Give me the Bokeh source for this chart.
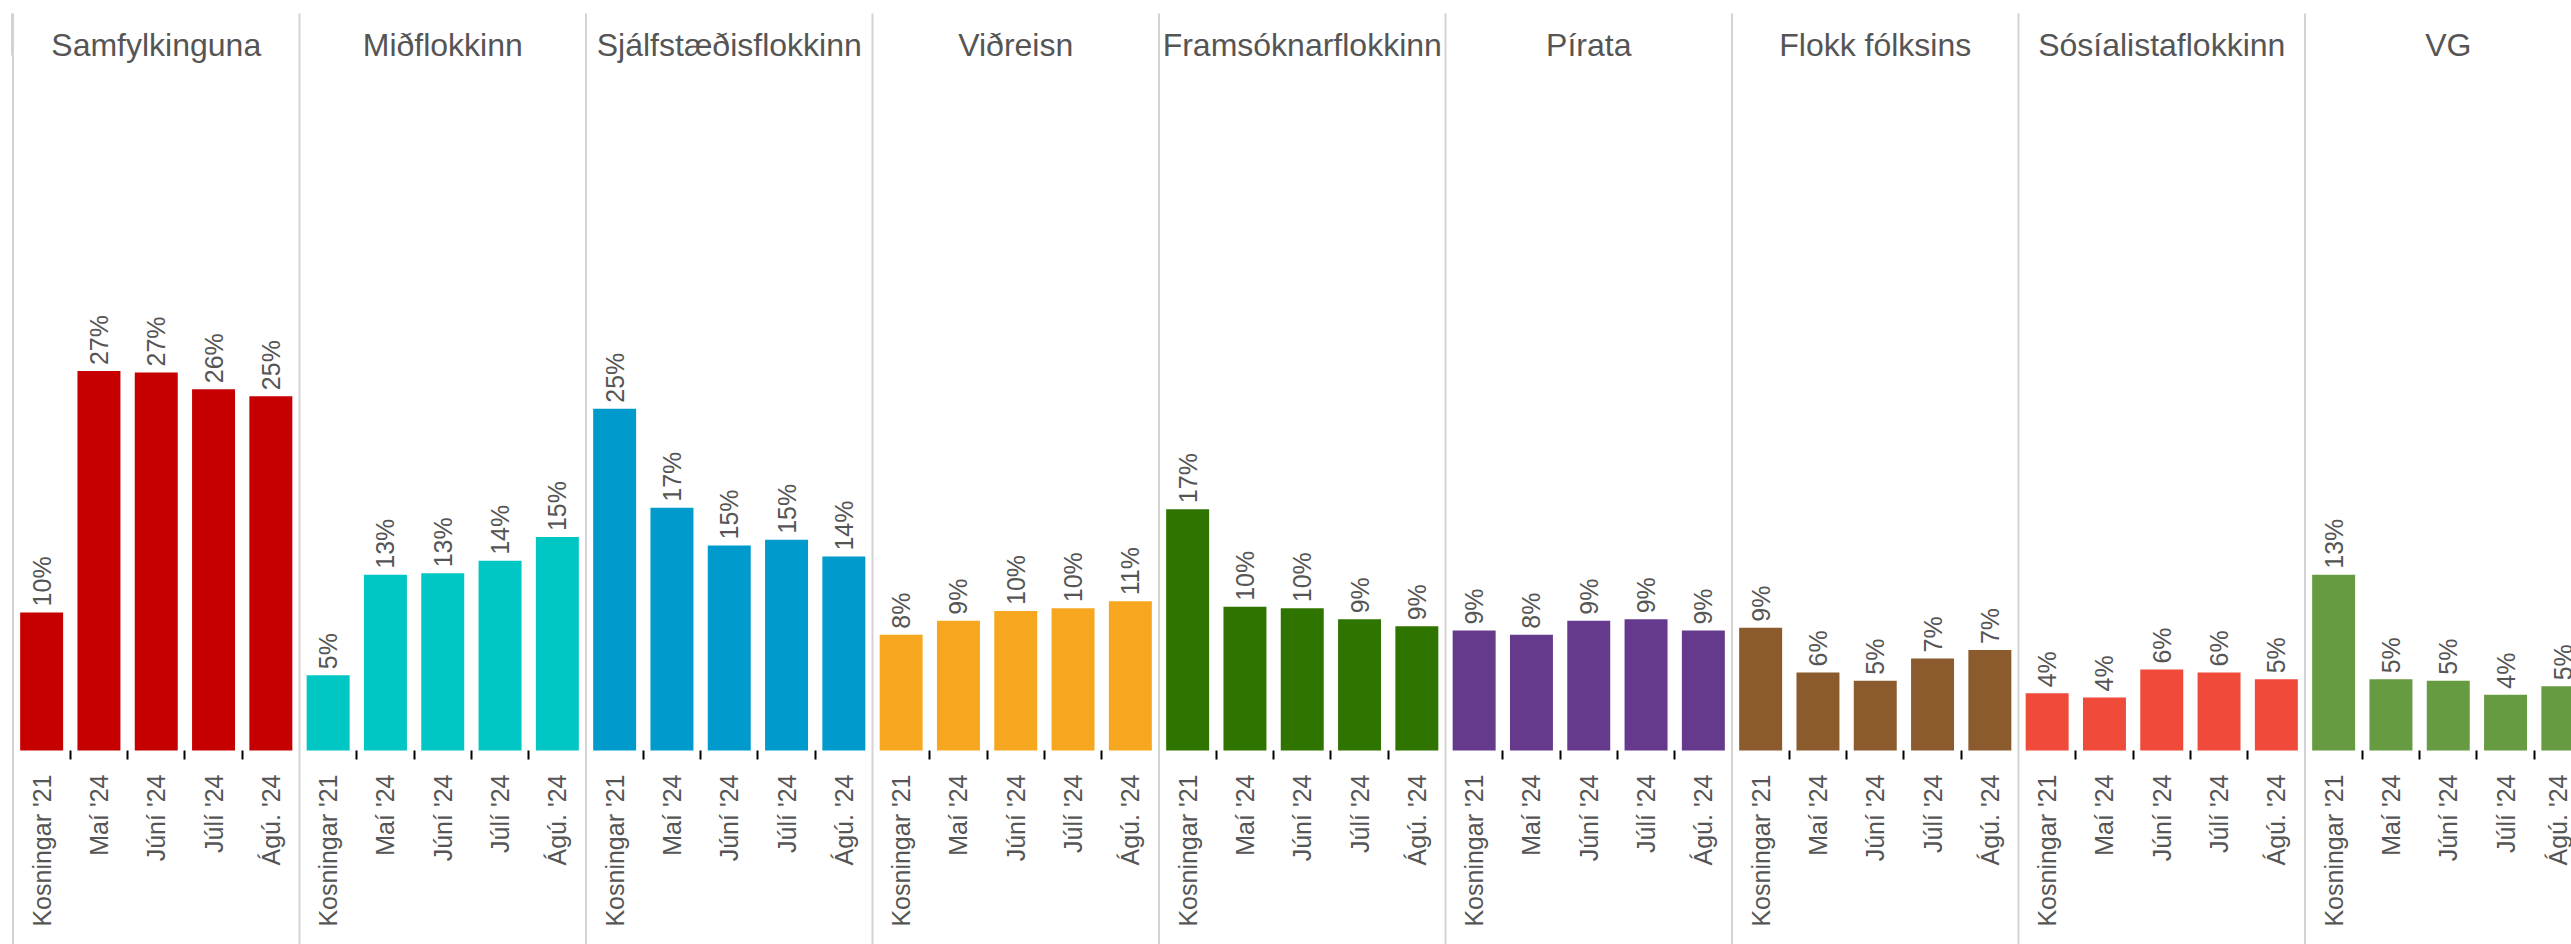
from math import pi
from bokeh.plotting import figure
from bokeh.models import Range1d, FixedTicker, LinearAxis, ColumnDataSource
from bokeh.core.properties import value
from bokeh.embed import file_html
from bokeh.resources import INLINE

# ---- data ----
parties = ["Samfylkinguna", "Miðflokkinn", "Sjálfstæðisflokkinn", "Viðreisn",
           "Framsóknarflokkinn", "Pírata", "Flokk fólksins", "Sósíalistaflokkinn", "VG"]
periods = ["Kosningar '21", "Maí '24", "Júní '24", "Júlí '24", "Ágú. '24"]
colors = ["#c60000", "#00c6c4", "#009acd", "#f6a71f", "#307400",
          "#653a8d", "#8b5b2e", "#f04a3a", "#679b41"]

samfylkingin = [9.9, 27.2, 27.1, 25.9, 25.4]
midflokkurinn = [5.4, 12.6, 12.7, 13.6, 15.3]
sjalfstaedisflokkurinn = [24.5, 17.4, 14.7, 15.1, 13.9]
vidreisn = [8.3, 9.3, 10.0, 10.2, 10.7]
framsokn = [17.3, 10.3, 10.2, 9.4, 8.9]
piratar = [8.6, 8.3, 9.3, 9.4, 8.6]
flokkur_folksins = [8.8, 5.6, 5.0, 6.6, 7.2]
sosialistar = [4.1, 3.8, 5.8, 5.6, 5.1]
vg = [12.6, 5.1, 5.0, 4.0, 4.6]
series = [samfylkingin, midflokkurinn, sjalfstaedisflokkurinn, vidreisn, framsokn,
          piratar, flokkur_folksins, sosialistar, vg]

# ---- layout constants ----
W, H = 2571, 944
SLOT_PX = 57.3           # width of one bar slot in px
FIRST_EDGE_PX = 12.5     # first panel edge from figure left
PX_PER_UNIT = 13.95      # px per percentage point
BASE_PX = 750            # baseline distance from figure top
NPER = len(periods)

x_start = -0.5 - FIRST_EDGE_PX / SLOT_PX
x_end = x_start + W / SLOT_PX
y_end = BASE_PX / PX_PER_UNIT
y_start = -(H - BASE_PX) / PX_PER_UNIT

def fmt(v):
    return f"{int(v + 0.5)}%"

xs, tops, cols, labs = [], [], [], []
for k, vals in enumerate(series):
    for j, v in enumerate(vals):
        xs.append(k * NPER + j)
        tops.append(v)
        cols.append(colors[k])
        labs.append(fmt(v))
src = ColumnDataSource(dict(x=xs, top=tops, color=cols, label=labs,
                            ly=[t + 6 / PX_PER_UNIT for t in tops]))

p = figure(width=W, height=H, output_backend="svg", toolbar_location=None,
           x_range=Range1d(x_start, x_end), y_range=Range1d(y_start, y_end),
           x_axis_location=None, y_axis_location=None,
           min_border=0, outline_line_color=None, background_fill_color="white",
           border_fill_color="white")
p.xgrid.visible = False
p.ygrid.visible = False

# panel separators
nparty = len(parties)
sep_x = [k * NPER - 0.5 for k in range(nparty)]
sep_top = y_end - 13 / PX_PER_UNIT
p.segment(x0=sep_x, y0=[y_start] * nparty, x1=sep_x, y1=[sep_top] * nparty,
          line_color="#d3d3d3", line_width=2)
# header border of the first facet (slightly heavier)
hdr_bottom = y_end - 55 / PX_PER_UNIT
p.segment(x0=[sep_x[0] - 1 / SLOT_PX], y0=[hdr_bottom], x1=[sep_x[0] - 1 / SLOT_PX],
          y1=[sep_top], line_color="#d3d3d3", line_width=2)

# bars
p.vbar(x="x", top="top", bottom=0, width=0.75, fill_color="color",
       line_color=None, source=src)

# value labels
p.text(x="x", y="ly", text="label", angle=pi / 2, text_align="left",
       text_baseline="middle", text_font=value("Liberation Sans"),
       text_font_size="25px", text_color="#555555", source=src)

# panel titles
title_y = y_end - 44.3 / PX_PER_UNIT
p.text(x=[k * NPER + (NPER - 1) / 2 for k in range(nparty)], y=[title_y] * nparty,
       text=parties, text_align="center", text_baseline="alphabetic",
       text_font=value("Liberation Sans"), text_font_size="32px",
       text_color="#555555")

# bottom axis inside the frame at y=0
centers = list(range(nparty * NPER))
inner_bounds = [k * NPER + j - 0.5 for k in range(nparty) for j in range(1, NPER)]
ax = LinearAxis(fixed_location=0,
                ticker=FixedTicker(ticks=centers, minor_ticks=inner_bounds))
ax.major_label_overrides = {c: periods[c % NPER] for c in centers}
ax.axis_line_color = None
ax.major_tick_out = 0
ax.major_tick_in = 0
ax.minor_tick_out = 9
ax.minor_tick_in = 0
ax.minor_tick_line_color = "black"
ax.minor_tick_line_width = 2
ax.major_label_orientation = pi / 2
ax.major_label_standoff = 15
ax.major_label_text_font = "Liberation Sans"
ax.major_label_text_font_size = "25px"
ax.major_label_text_color = "#555555"
p.add_layout(ax, "below")

open("out.html", "w").write(file_html(p, INLINE))
